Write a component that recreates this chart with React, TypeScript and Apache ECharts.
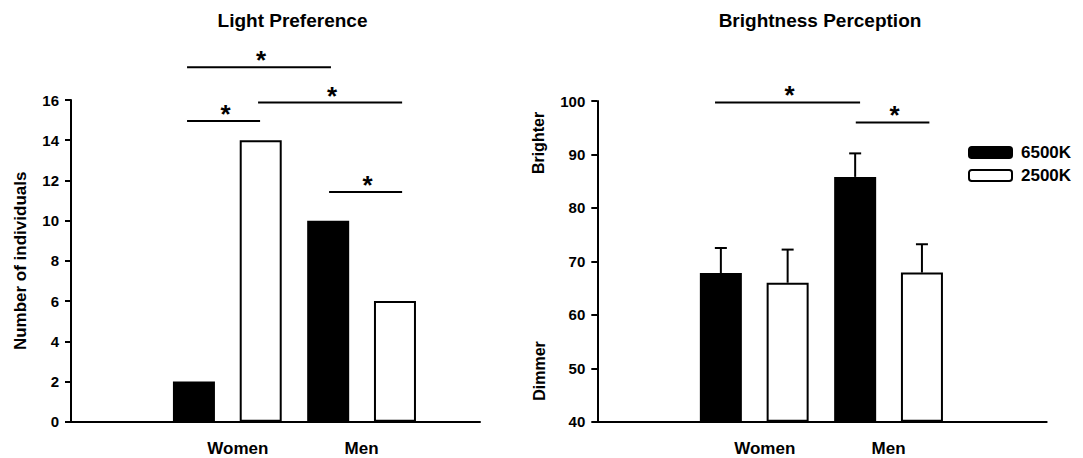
import React, { useEffect, useRef } from "react";
import * as echarts from "echarts";

// ---- data ----
const CATEGORIES = ["Women", "Men"];
const SERIES_NAMES = ["6500K", "2500K"];

// Light preference (number of individuals)
const PREF_6500K = [2, 10];
const PREF_2500K = [14, 6];
const PREF_MIN = 0;
const PREF_MAX = 16;
const PREF_INTERVAL = 2;

// Brightness perception (mean, upper error)
const BRIGHT_6500K = [67.8, 85.8];
const BRIGHT_6500K_ERR = [4.7, 4.4];
const BRIGHT_2500K = [66.0, 67.9];
const BRIGHT_2500K_ERR = [6.2, 5.3];
const BRIGHT_MIN = 40;
const BRIGHT_MAX = 100;
const BRIGHT_INTERVAL = 10;

// significance brackets: [start (category units from Women), end, level]
const PREF_SIG = [
  [-0.3, 0.772, 17.63],
  [0.229, 1.302, 15.87],
  [-0.3, 0.244, 14.96],
  [0.758, 1.302, 11.43],
];
const BRIGHT_SIG = [
  [-0.292, 0.788, 99.72],
  [0.756, 1.304, 96.0],
];

// ---- style constants ----
const FONT = "'Liberation Sans', Arial, Helvetica, sans-serif";
const BAR_W = 42;
const BAR_GAP = 0.59;
const BAR_OFFSET = (BAR_W * (1 + BAR_GAP)) / 2;
const CAP_W = 12;
const STAR_OFFSET = 7;

const axisLineStyle = { color: "#000", width: 2 };
const tickLabel = {
  color: "#000",
  fontSize: 15,
  fontWeight: "bold" as const,
  fontFamily: FONT,
  margin: 12,
};

function sigRenderer(params: any, api: any) {
  const u0 = api.value(1);
  const u1 = api.value(2);
  const level = api.value(3);
  const origin = api.coord([0, level]);
  const catW = api.size([1, 0])[0];
  const xa = origin[0] + u0 * catW;
  const xb = origin[0] + u1 * catW;
  return {
    type: "group",
    children: [
      {
        type: "line",
        shape: { x1: xa, y1: origin[1], x2: xb, y2: origin[1] },
        style: { stroke: "#000", lineWidth: 2 },
      },
      {
        type: "text",
        style: {
          text: "*",
          x: (xa + xb) / 2 + 2,
          y: origin[1] - STAR_OFFSET,
          align: "center",
          verticalAlign: "middle",
          fontSize: 26,
          fontWeight: "bold",
          fontFamily: FONT,
          fill: "#000",
        },
      },
    ],
  };
}

function errRenderer(side: number) {
  return (params: any, api: any) => {
    const cat = api.value(0);
    const mean = api.value(1);
    const err = api.value(2);
    const base = api.coord([cat, mean]);
    const top = api.coord([cat, mean + err]);
    const x = base[0] + side * BAR_OFFSET;
    return {
      type: "group",
      children: [
        {
          type: "line",
          shape: { x1: x, y1: base[1], x2: x, y2: top[1] },
          style: { stroke: "#000", lineWidth: 2 },
        },
        {
          type: "line",
          shape: { x1: x - CAP_W / 2, y1: top[1], x2: x + CAP_W / 2, y2: top[1] },
          style: { stroke: "#000", lineWidth: 2 },
        },
      ],
    };
  };
}

const blackStyle = { color: "#000", borderColor: "#000", borderWidth: 2 };
const whiteStyle = { color: "#fff", borderColor: "#000", borderWidth: 2 };

function catLabel() {
  return {
    color: "#000",
    fontSize: 17,
    fontWeight: "bold" as const,
    fontFamily: FONT,
    margin: 18,
    formatter: (v: string) => (v === "Women" ? "{w|" + v + "}" : v),
    rich: {
      w: {
        color: "#000",
        fontSize: 17,
        fontWeight: "bold" as const,
        fontFamily: FONT,
        padding: [0, 0, 0, 21],
      },
    },
  };
}

function frameX(gridIndex: number) {
  return {
    type: "value" as const,
    gridIndex,
    min: 0,
    max: 1,
    axisLine: { show: true, onZero: false, lineStyle: axisLineStyle },
    axisTick: { show: false },
    axisLabel: { show: false },
    splitLine: { show: false },
  };
}

function barX(gridIndex: number) {
  return {
    type: "category" as const,
    gridIndex,
    data: CATEGORIES,
    axisLine: { show: false },
    axisTick: { show: false },
    axisLabel: catLabel(),
    splitLine: { show: false },
  };
}

export default function App() {
  const ref = useRef<HTMLDivElement>(null);

  useEffect(() => {
    if (!ref.current) return;
    const chart = echarts.init(ref.current, null, { renderer: "svg" });

    const option: any = {
      animation: false,
      backgroundColor: "#fff",
      graphic: [
        {
          type: "text",
          x: 292.5,
          y: 20,
          style: {
            text: "Light Preference",
            align: "center",
            verticalAlign: "middle",
            fontSize: 19,
            fontWeight: "bold",
            fontFamily: FONT,
            fill: "#000",
          },
        },
        {
          type: "text",
          x: 820,
          y: 20,
          style: {
            text: "Brightness Perception",
            align: "center",
            verticalAlign: "middle",
            fontSize: 19,
            fontWeight: "bold",
            fontFamily: FONT,
            fill: "#000",
          },
        },
        {
          type: "text",
          x: 538,
          y: 143,
          rotation: Math.PI / 2,
          style: {
            text: "Brighter",
            align: "center",
            verticalAlign: "middle",
            fontSize: 16,
            fontWeight: "bold",
            fontFamily: FONT,
            fill: "#000",
          },
        },
        {
          type: "text",
          x: 539,
          y: 371,
          rotation: Math.PI / 2,
          style: {
            text: "Dimmer",
            align: "center",
            verticalAlign: "middle",
            fontSize: 16,
            fontWeight: "bold",
            fontFamily: FONT,
            fill: "#000",
          },
        },
      ],
      legend: {
        data: SERIES_NAMES,
        orient: "vertical",
        left: 963,
        top: 139,
        itemWidth: 43,
        itemHeight: 11,
        itemGap: 6,
        icon: "roundRect",
        selectedMode: false,
        textStyle: {
          color: "#000",
          fontSize: 17,
          fontWeight: "bold",
          fontFamily: FONT,
          padding: [0, 0, 0, 4],
        },
      },
      grid: [
        { left: 71, top: 100, width: 409, height: 321.7 },
        { left: 160.2, top: 100, width: 268.5, height: 321.7 },
        { left: 597.3, top: 101, width: 449.4, height: 320.7 },
        { left: 687.1, top: 101, width: 268.6, height: 320.7 },
      ],
      xAxis: [frameX(0), barX(1), frameX(2), barX(3)],
      yAxis: [
        {
          type: "value",
          gridIndex: 0,
          min: PREF_MIN,
          max: PREF_MAX,
          interval: PREF_INTERVAL,
          name: "Number of individuals",
          nameLocation: "middle",
          nameGap: 51,
          nameTextStyle: {
            color: "#000",
            fontSize: 17,
            fontWeight: "bold",
            fontFamily: FONT,
            align: "center",
            verticalAlign: "middle",
          },
          axisLine: { show: true, onZero: false, lineStyle: axisLineStyle },
          axisTick: { show: true, length: 6, lineStyle: { color: "#000", width: 2 } },
          axisLabel: tickLabel,
          splitLine: { show: false },
        },
        {
          type: "value",
          gridIndex: 1,
          min: PREF_MIN,
          max: PREF_MAX,
          interval: PREF_INTERVAL,
          show: false,
          splitLine: { show: false },
        },
        {
          type: "value",
          gridIndex: 2,
          min: BRIGHT_MIN,
          max: BRIGHT_MAX,
          interval: BRIGHT_INTERVAL,
          axisLine: { show: true, onZero: false, lineStyle: axisLineStyle },
          axisTick: { show: true, length: 6, lineStyle: { color: "#000", width: 2 } },
          axisLabel: tickLabel,
          splitLine: { show: false },
        },
        {
          type: "value",
          gridIndex: 3,
          min: BRIGHT_MIN,
          max: BRIGHT_MAX,
          interval: BRIGHT_INTERVAL,
          startValue: BRIGHT_MIN,
          show: false,
          splitLine: { show: false },
        },
      ],
      series: [
        {
          name: SERIES_NAMES[0],
          type: "bar",
          xAxisIndex: 1,
          yAxisIndex: 1,
          data: PREF_6500K,
          barWidth: BAR_W,
          barGap: BAR_GAP * 100 + "%",
          itemStyle: blackStyle,
        },
        {
          name: SERIES_NAMES[1],
          type: "bar",
          xAxisIndex: 1,
          yAxisIndex: 1,
          data: PREF_2500K,
          barWidth: BAR_W,
          barGap: BAR_GAP * 100 + "%",
          itemStyle: whiteStyle,
        },
        {
          name: SERIES_NAMES[0],
          type: "bar",
          xAxisIndex: 3,
          yAxisIndex: 3,
          data: BRIGHT_6500K,
          barWidth: BAR_W,
          barGap: BAR_GAP * 100 + "%",
          itemStyle: blackStyle,
        },
        {
          name: SERIES_NAMES[1],
          type: "bar",
          xAxisIndex: 3,
          yAxisIndex: 3,
          data: BRIGHT_2500K,
          barWidth: BAR_W,
          barGap: BAR_GAP * 100 + "%",
          itemStyle: whiteStyle,
        },
        {
          name: "err6500",
          type: "custom",
          xAxisIndex: 3,
          yAxisIndex: 3,
          z: 3,
          renderItem: errRenderer(-1),
          encode: { x: 0, y: 1 },
          data: BRIGHT_6500K.map((m, i) => [i, m, BRIGHT_6500K_ERR[i]]),
        },
        {
          name: "err2500",
          type: "custom",
          xAxisIndex: 3,
          yAxisIndex: 3,
          z: 3,
          renderItem: errRenderer(1),
          encode: { x: 0, y: 1 },
          data: BRIGHT_2500K.map((m, i) => [i, m, BRIGHT_2500K_ERR[i]]),
        },
        {
          name: "sigPref",
          type: "custom",
          xAxisIndex: 1,
          yAxisIndex: 1,
          z: 3,
          clip: false,
          renderItem: sigRenderer,
          encode: { x: 0, y: 3 },
          data: PREF_SIG.map((s) => [0, s[0], s[1], s[2]]),
        },
        {
          name: "sigBright",
          type: "custom",
          xAxisIndex: 3,
          yAxisIndex: 3,
          z: 3,
          clip: false,
          renderItem: sigRenderer,
          encode: { x: 0, y: 3 },
          data: BRIGHT_SIG.map((s) => [0, s[0], s[1], s[2]]),
        },
      ],
    };

    chart.setOption(option);
    return () => chart.dispose();
  }, []);

  return (
    <div
      ref={ref}
      style={{ position: "fixed", left: 0, top: 0, width: 1083, height: 458, background: "#fff" }}
    />
  );
}
